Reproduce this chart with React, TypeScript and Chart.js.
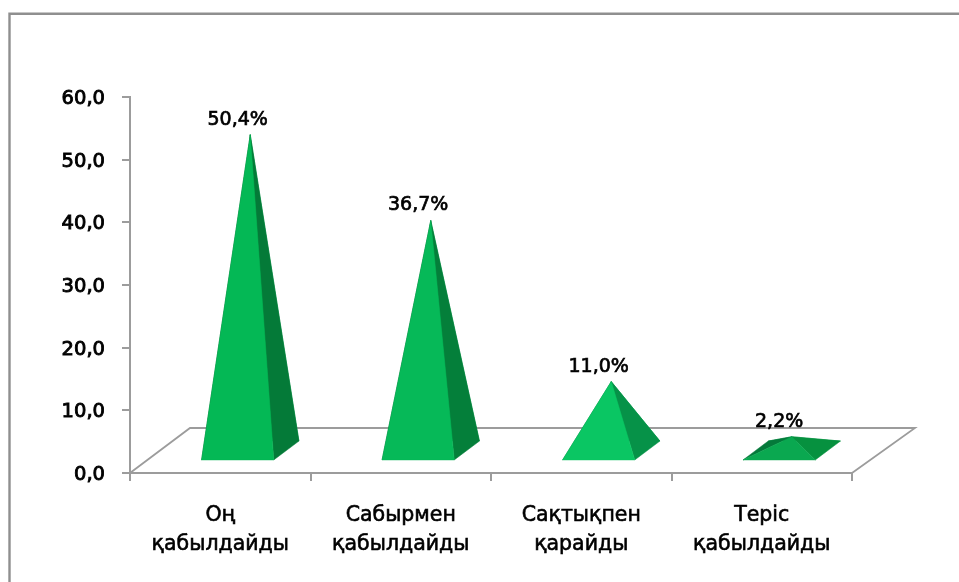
import React, { useEffect, useRef } from "react";
import { Chart, registerables } from "chart.js";

Chart.register(...registerables);

const categories = [
  ["Оң", "қабылдайды"],
  ["Сабырмен", "қабылдайды"],
  ["Сақтықпен", "қарайды"],
  ["Теріс", "қабылдайды"],
];
const values = [50.4, 36.7, 11.0, 2.2];
const valueLabels = ["50,4%", "36,7%", "11,0%", "2,2%"];
const frontColors = ["#04b855", "#06b958", "#0ac663", "#0aa850"];
const rightColors = ["#047a38", "#047f3a", "#069248", "#06913f"];
const leftColors = ["#035c2a", "#035c2a", "#047038", "#04793a"];
const backColors = ["#04a04a", "#04a04a", "#06a855", "#079a48"];

const FONT = '"DejaVu Sans", sans-serif';
const AXIS = "#9c9c9c";
const DEPTH_X = 60;
const DEPTH_Y = 45;
const FRONT = 0.29;
const BACK = 0.71;
const MID = 0.5;

const pyramids = {
  id: "pyramids",
  beforeDraw(chart: any) {
    const { ctx, scales } = chart;
    const x = scales.x;
    const y = scales.y;
    const left = x.left;
    const right = x.right;
    const y0 = y.getPixelForValue(0);
    ctx.save();
    // outer frame
    ctx.strokeStyle = "#8f8f8f";
    ctx.lineWidth = 2.4;
    ctx.beginPath();
    ctx.moveTo(9.5, chart.height);
    ctx.lineTo(9.5, 13.7);
    ctx.lineTo(chart.width, 13.7);
    ctx.stroke();
    // floor
    ctx.strokeStyle = AXIS;
    ctx.lineWidth = 1.8;
    ctx.beginPath();
    ctx.moveTo(left, y0);
    ctx.lineTo(left + DEPTH_X, y0 - DEPTH_Y);
    ctx.lineTo(right + DEPTH_X + 3, y0 - DEPTH_Y);
    ctx.lineTo(right, y0);
    ctx.stroke();
    ctx.restore();
  },
  afterDatasetsDraw(chart: any) {
    const { ctx, scales } = chart;
    const y = scales.y;
    const y0 = y.getPixelForValue(0);
    const meta = chart.getDatasetMeta(0);
    const poly = (pts: number[][], fill: string) => {
      ctx.fillStyle = fill;
      ctx.strokeStyle = fill;
      ctx.lineWidth = 0.5;
      ctx.beginPath();
      pts.forEach((p, i) => (i ? ctx.lineTo(p[0], p[1]) : ctx.moveTo(p[0], p[1])));
      ctx.closePath();
      ctx.fill();
      ctx.stroke();
    };
    ctx.save();
    meta.data.forEach((bar: any, i: number) => {
      const half = bar.width / 2;
      const fl = [bar.x - half + DEPTH_X * FRONT, y0 - DEPTH_Y * FRONT];
      const fr = [bar.x + half + DEPTH_X * FRONT, y0 - DEPTH_Y * FRONT];
      const bl = [bar.x - half + DEPTH_X * BACK, y0 - DEPTH_Y * BACK];
      const br = [bar.x + half + DEPTH_X * BACK, y0 - DEPTH_Y * BACK];
      const apex = [bar.x + DEPTH_X * MID, y.getPixelForValue(values[i]) - DEPTH_Y * MID];
      poly([bl, br, apex], backColors[i]);
      poly([fl, bl, apex], leftColors[i]);
      poly([fr, br, apex], rightColors[i]);
      poly([fl, fr, apex], frontColors[i]);
      ctx.fillStyle = "#000";
      ctx.strokeStyle = "#000";
      ctx.lineWidth = 0.7;
      ctx.font = `19px ${FONT}`;
      ctx.textAlign = "center";
      ctx.textBaseline = "middle";
      const lx = bar.x + DEPTH_X * FRONT;
      const ly = apex[1] - 15;
      ctx.strokeText(valueLabels[i], lx, ly);
      ctx.fillText(valueLabels[i], lx, ly);
    });
    ctx.restore();
  },
};

export default function App() {
  const ref = useRef<HTMLCanvasElement>(null);
  useEffect(() => {
    const chart = new Chart(ref.current!, {
      type: "bar",
      data: {
        labels: categories,
        datasets: [
          {
            data: values,
            backgroundColor: "rgba(0,0,0,0)",
            barPercentage: 0.4,
            categoryPercentage: 1,
          },
        ],
      },
      options: {
        responsive: false,
        animation: false,
        devicePixelRatio: 1,
        layout: { padding: { top: 97, right: 107, left: 0, bottom: 0 } },
        plugins: { legend: { display: false }, tooltip: { enabled: false } },
        scales: {
          x: {
            afterFit: (s: any) => {
              s.height = 109;
            },
            border: { color: AXIS, width: 2 },
            grid: { drawOnChartArea: false, drawTicks: true, tickLength: 8, color: AXIS, lineWidth: 2 },
            ticks: {
              color: "#000",
              font: { family: FONT, size: 20.5, lineHeight: 1.42 },
              textStrokeColor: "#000",
              textStrokeWidth: 0.6,
              padding: 20,
              maxRotation: 0,
              autoSkip: false,
            },
          },
          y: {
            min: 0,
            max: 60,
            afterFit: (s: any) => {
              s.width = 130;
            },
            border: { color: AXIS, width: 2 },
            grid: { drawOnChartArea: false, drawTicks: true, tickLength: 8, color: AXIS, lineWidth: 2 },
            ticks: {
              stepSize: 10,
              color: "#000",
              font: { family: FONT, size: 19.5 },
              textStrokeColor: "#000",
              textStrokeWidth: 0.9,
              padding: 17,
              labelOffset: 2,
              callback: (v: any) => Number(v).toFixed(1).replace(".", ","),
            },
          },
        },
      },
      plugins: [pyramids],
    });
    return () => chart.destroy();
  }, []);
  return (
    <div style={{ position: "fixed", left: 0, top: 0, width: 959, height: 582, background: "#fff" }}>
      <canvas ref={ref} width={959} height={582} style={{ display: "block" }} />
    </div>
  );
}
